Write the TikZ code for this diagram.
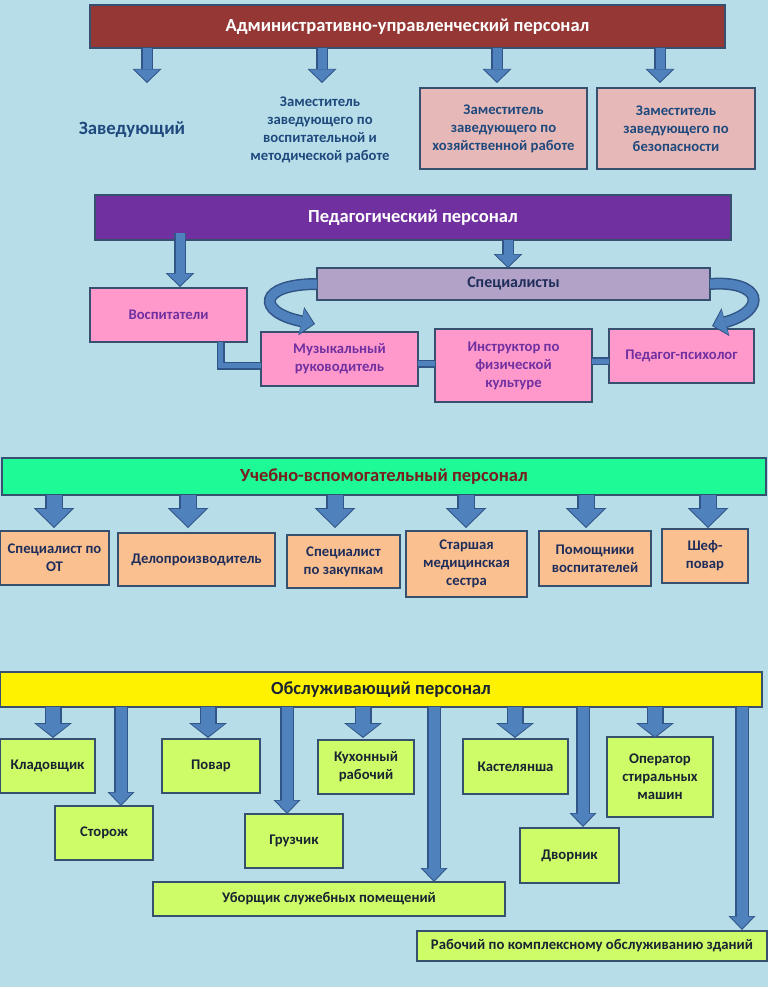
\documentclass[tikz,border=0pt]{standalone}
\usepackage{fontspec}
\setmainfont{Carlito}
\usetikzlibrary{arrows.meta}

\definecolor{bgblue}{RGB}{183,222,232}
\definecolor{boxedge}{RGB}{55,80,112}
\definecolor{arrowblue}{RGB}{79,129,189}
\definecolor{arrowedge}{RGB}{50,85,135}
\definecolor{admred}{RGB}{149,55,53}
\definecolor{pedpurple}{RGB}{112,48,160}
\definecolor{rosepink}{RGB}{230,185,184}
\definecolor{lavender}{RGB}{179,162,199}
\definecolor{hotpink}{RGB}{255,153,204}
\definecolor{mint}{RGB}{30,250,150}
\definecolor{peach}{RGB}{250,192,144}
\definecolor{lime}{RGB}{206,252,104}
\definecolor{navytext}{RGB}{31,73,125}
\definecolor{darknavy}{RGB}{31,45,90}
\definecolor{purpletext}{RGB}{112,48,160}
\definecolor{brownred}{RGB}{120,30,30}
\definecolor{inktext}{RGB}{25,35,50}

\tikzset{
  box/.style={draw=boxedge, line width=1.5pt, align=center, inner sep=2pt, outer sep=0pt,
    font=\bfseries\fontsize{14.7}{18}\selectfont},
  bar/.style={box, font=\bfseries\fontsize{18.5}{21}\selectfont},
  blockarr/.style n args={6}{draw=arrowblue, line width=#4,
    -{Triangle[length=#5,width=#6,line width=0pt]}, shorten >=1.5pt,
    preaction={draw=arrowedge, line width=#1, shorten >=0pt,
      -{Triangle[length=#2,width=#3,line width=0pt]}}},
  arrA/.style={blockarr={12pt}{14pt}{29pt}{9pt}{12pt}{25pt}},
  arrB/.style={blockarr={18pt}{20pt}{41pt}{15pt}{17.5pt}{36pt}},
  arrC/.style={blockarr={17pt}{15pt}{38pt}{14pt}{12.5pt}{33pt}},
  arrD/.style={blockarr={14pt}{14pt}{27pt}{11pt}{12pt}{23pt}},
  link/.style={draw=arrowblue, line width=5pt, preaction={draw=arrowedge, line width=8pt}},
}

\begin{document}
\begin{tikzpicture}[x=1pt, y=-1pt]
\fill[bgblue] (0,0) rectangle (768,987);
\useasboundingbox (0,0) rectangle (768,987);

% administrative staff
\node[bar, fill=admred, text=white, minimum width=635pt, minimum height=43pt] (adm) at (407.5,26.5)
  {Административно-управленческий персонал};
\node[font=\bfseries\fontsize{18.8}{22}\selectfont, text=navytext] (zav) at (132,130) {Заведующий};
\node[align=center, font=\bfseries\fontsize{14.7}{18}\selectfont, text=navytext] (dep1) at (320,129.5)
  {Заместитель\\заведующего по\\воспитательной и\\методической работе};
\node[box, fill=rosepink, text=navytext, minimum width=167pt, minimum height=81pt] (dep2) at (503.5,128.5)
  {Заместитель\\заведующего по\\хозяйственной работе};
\node[box, fill=rosepink, text=navytext, minimum width=158pt, minimum height=81pt] (dep3) at (676,128.5)
  {Заместитель\\заведующего по\\безопасности};
\foreach \x [count=\i] in {147,322,497,660}{
  \coordinate (adm\i) at (\x,83);
  \draw[arrA] (adm.south -| adm\i) -- (adm\i);
}

% pedagogical staff
\node[bar, fill=pedpurple, text=white, minimum width=636pt, minimum height=45pt] (ped) at (413,217.5)
  {Педагогический персонал};
\node[box, fill=lavender, text=darknavy, font=\bfseries\fontsize{16}{18}\selectfont,
  minimum width=393pt, minimum height=32pt] (spec) at (513.5,284) {Специалисты};
\node[box, fill=hotpink, text=purpletext, minimum width=157pt, minimum height=54pt] (vosp) at (168.5,315)
  {Воспитатели};
\node[box, fill=hotpink, text=purpletext, minimum width=157pt, minimum height=54pt] (mus) at (339.5,359)
  {Музыкальный\\руководитель};
\node[box, fill=hotpink, text=purpletext, minimum width=157pt, minimum height=73pt] (instr) at (513.5,365.5)
  {Инструктор по\\физической\\культуре};
\node[box, fill=hotpink, text=purpletext, minimum width=145pt, minimum height=54pt] (psy) at (681.5,356)
  {Педагог-психолог};
\coordinate (vtop) at (180,287);
\coordinate (stop) at (508,268);
\draw[arrA] ([yshift=7pt]ped.south -| vtop) -- (vtop);
\draw[arrA] (ped.south -| stop) -- (stop);
\coordinate (cl) at (315,324);
\coordinate (cr) at (712,326);
\draw[arrA] (spec.west) .. controls (258,284) and (256,312) .. (cl);
\draw[arrA] (spec.east) .. controls (762,280) and (768,310) .. (cr);
\coordinate (lk1) at (220.5,365.5);
\coordinate (lk2) at (427,363.5);
\coordinate (lk3) at (600,361);
\draw[link] (vosp.south -| lk1) |- (mus.west |- lk1);
\draw[link] (mus.east |- lk2) -- (instr.west |- lk2);
\draw[link] (instr.east |- lk3) -- (psy.west |- lk3);

% teaching support staff
\node[bar, fill=mint, text=brownred, minimum width=764pt, minimum height=37pt] (aux) at (384,476.5)
  {Учебно-вспомогательный персонал};
\foreach \n/\x/\y/\w/\h/\t in {
    ot/54.5/558/109/54/{Специалист по\\ОТ},
    delo/196.5/559.5/157/53/{Делопроизводитель},
    zak/343.5/561.5/113/53/{Специалист\\по закупкам},
    sest/466.5/564/121/66/{Старшая\\медицинская\\сестра},
    pom/595/558.5/112/55/{Помощники\\воспитателей},
    shef/705/556/86/54/{Шеф-\\повар}}{
  \node[box, fill=peach, text=darknavy, minimum width=\w pt, minimum height=\h pt] (\n) at (\x,\y) {\t};
}
\foreach \n/\x in {ot/54, delo/188, zak/335, sest/466, pom/586, shef/708}{
  \coordinate (t\n) at (\x,528);
  \draw[arrB] (aux.south -| t\n) -- (t\n);
}

% service staff
\node[bar, fill=yellow, text=inktext, minimum width=762pt, minimum height=35pt] (serv) at (381,689.5)
  {Обслуживающий персонал};
\foreach \n/\x/\y/\w/\h/\t in {
    klad/47.5/766/95/54/{Кладовщик},
    stor/104/833/98/54/{Сторож},
    povar/211/766/98/54/{Повар},
    gruz/294/841/98/54/{Грузчик},
    kuh/366/767/96/54/{Кухонный\\рабочий},
    uborsh/329/899/352/34/{Уборщик служебных помещений},
    kast/515.5/766.5/105/55/{Кастелянша},
    dvor/569.5/855.5/99/55/{Дворник},
    oper/660/777/106/80/{Оператор\\стиральных\\машин},
    rab/592/946/350/30/{Рабочий по комплексному обслуживанию зданий}}{
  \node[box, fill=lime, text=inktext, minimum width=\w pt, minimum height=\h pt] (\n) at (\x,\y) {\t};
}
\foreach \n/\x in {klad/53, povar/208, kuh/363, kast/515, oper/655}{
  \coordinate (t\n) at (\x,738);
  \draw[arrC] (serv.south -| t\n) -- (t\n);
}
\foreach \n/\x/\y in {stor/121/806, gruz/287/814, uborsh/434/882, dvor/583/827, rab/742/930}{
  \coordinate (t\n) at (\x,\y);
  \draw[arrD] (serv.south -| t\n) -- (t\n);
}
\end{tikzpicture}
\end{document}
